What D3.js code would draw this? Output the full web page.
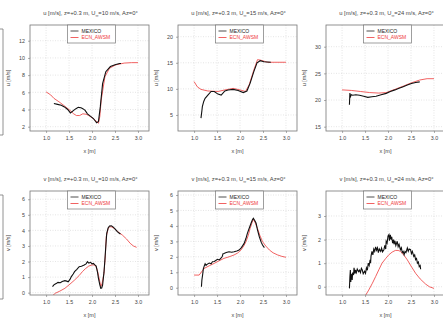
<!DOCTYPE html>
<html>
<head>
<meta charset="utf-8">
<script src="https://cdn.jsdelivr.net/npm/d3@7"></script>
<style>
  body { margin: 0; background: #fff; }
  svg { display: block; font-family: "Liberation Sans", Arial, sans-serif; }
</style>
</head>
<body>
<svg id="chart" width="443" height="320"></svg>
<script>
// ---- data ----
const xTicks = [1.0, 1.5, 2.0, 2.5, 3.0];
const speeds = [10, 15, 24];
const components = ["u", "v"];
const seriesNames = ["MEXICO", "ECN_AWSM"];

const u10Ticks = [2, 4, 6, 8, 10, 12];
const u15Ticks = [5, 10, 15, 20];
const u24Ticks = [15, 20, 25, 30];
const v10Ticks = [0, 1, 2, 3, 4, 5, 6];
const v15Ticks = [0, 1, 2, 3, 4, 5, 6];
const v24Ticks = [0, 1, 2, 3];

const u10Mexico = [[1.17,4.7],[1.25,4.6],[1.33,4.5],[1.4,4.3],[1.47,4.0],[1.53,3.6],[1.6,3.9],[1.65,4.1],[1.7,4.25],[1.76,4.2],[1.8,4.1],[1.85,3.9],[1.9,3.5],[1.97,3.2],[2.03,2.95],[2.1,2.45],[2.14,2.6],[2.18,4.3],[2.23,7.0],[2.3,8.4],[2.4,9.0],[2.5,9.2],[2.6,9.35],[2.63,9.35]];
const u10Awsm = [[1.0,6.05],[1.1,5.7],[1.17,5.3],[1.28,4.9],[1.38,4.5],[1.52,3.9],[1.6,3.5],[1.66,3.3],[1.73,3.3],[1.8,3.5],[1.87,3.45],[1.93,3.3],[2.0,3.05],[2.07,2.75],[2.14,2.4],[2.17,3.2],[2.2,5.1],[2.28,7.8],[2.38,8.8],[2.52,9.2],[2.7,9.4],[2.86,9.45],[3.0,9.45]];

const u15Mexico = [[1.15,4.4],[1.17,5.8],[1.18,6.6],[1.21,7.6],[1.24,8.2],[1.3,8.8],[1.37,9.5],[1.44,9.5],[1.52,9.0],[1.59,8.8],[1.67,9.6],[1.74,9.8],[1.85,9.9],[1.96,9.7],[2.07,9.3],[2.15,9.6],[2.22,11.1],[2.3,13.3],[2.37,15.0],[2.44,15.4],[2.52,15.2],[2.67,15.1]];
const u15Awsm = [[1.0,11.4],[1.07,10.4],[1.15,9.9],[1.3,9.6],[1.52,9.5],[1.67,9.8],[1.85,10.1],[2.0,9.8],[2.12,9.5],[2.2,10.8],[2.3,13.6],[2.38,15.6],[2.45,15.5],[2.6,15.1],[3.0,15.1]];

const u24Mexico = [[1.16,19.1],[1.17,21.3],[1.18,20.6],[1.2,21.0],[1.23,20.9],[1.3,21.0],[1.38,20.9],[1.47,20.7],[1.56,20.5],[1.65,20.6],[1.74,20.7],[1.85,21.0],[1.96,21.25],[2.05,21.6],[2.15,21.9],[2.24,22.2],[2.33,22.5],[2.42,22.8],[2.51,23.1],[2.6,23.3],[2.69,23.4]];
const u24Awsm = [[1.0,21.9],[1.2,21.8],[1.4,21.6],[1.6,21.4],[1.8,21.3],[1.96,21.4],[2.15,22.0],[2.33,22.6],[2.5,23.2],[2.69,23.75],[2.85,24.0],[3.0,24.0]];

const v10Mexico = [[1.14,0.39],[1.17,0.5],[1.2,0.56],[1.23,0.6],[1.26,0.66],[1.31,0.64],[1.35,0.72],[1.41,0.77],[1.45,0.74],[1.48,0.7],[1.52,0.85],[1.55,1.03],[1.59,1.2],[1.62,1.35],[1.67,1.5],[1.72,1.67],[1.77,1.7],[1.83,1.78],[1.87,1.85],[1.9,1.99],[1.93,1.9],[1.97,1.95],[2.0,1.85],[2.03,1.88],[2.06,1.78],[2.09,1.71],[2.12,1.3],[2.14,0.92],[2.17,0.5],[2.19,0.28],[2.21,0.3],[2.23,0.49],[2.26,1.3],[2.28,2.1],[2.3,3.0],[2.32,3.81],[2.35,4.15],[2.38,4.28],[2.42,4.3],[2.45,4.24],[2.5,4.1],[2.55,3.92],[2.6,3.8],[2.62,3.77]];
const v10Awsm = [[1.0,-0.5],[1.1,-0.3],[1.2,-0.04],[1.3,0.1],[1.41,0.28],[1.52,0.55],[1.62,0.81],[1.72,1.1],[1.79,1.35],[1.86,1.55],[1.93,1.71],[2.0,1.78],[2.07,1.78],[2.11,1.5],[2.14,1.13],[2.17,0.7],[2.19,0.39],[2.22,0.6],[2.26,1.24],[2.29,2.4],[2.31,3.6],[2.35,4.1],[2.38,4.24],[2.43,4.22],[2.48,4.13],[2.57,3.9],[2.66,3.7],[2.75,3.45],[2.83,3.17],[2.9,3.0],[2.97,2.91]];

const v15Mexico = [[1.16,0.06],[1.17,0.5],[1.19,0.93],[1.2,1.2],[1.22,1.4],[1.24,1.55],[1.26,1.45],[1.29,1.53],[1.33,1.6],[1.37,1.55],[1.4,1.68],[1.44,1.7],[1.48,1.78],[1.51,1.84],[1.55,1.8],[1.58,1.9],[1.61,2.0],[1.63,2.2],[1.65,2.22],[1.7,2.28],[1.76,2.33],[1.82,2.3],[1.87,2.33],[1.93,2.38],[1.98,2.44],[2.03,2.6],[2.09,2.87],[2.13,3.2],[2.16,3.52],[2.2,3.85],[2.24,4.17],[2.27,4.4],[2.29,4.49],[2.32,4.35],[2.35,4.17],[2.38,3.75],[2.42,3.3],[2.46,2.95],[2.49,2.76],[2.53,2.6]];
const v15Awsm = [[1.0,0.82],[1.11,0.82],[1.22,1.25],[1.33,1.42],[1.44,1.58],[1.55,1.75],[1.65,1.9],[1.76,2.0],[1.87,2.12],[1.95,2.25],[2.02,2.44],[2.08,2.7],[2.13,2.98],[2.18,3.4],[2.22,3.84],[2.26,4.2],[2.29,4.43],[2.33,4.2],[2.38,3.84],[2.43,3.4],[2.49,2.98],[2.56,2.7],[2.64,2.44],[2.72,2.26],[2.82,2.12],[2.91,2.03],[3.0,1.97]];

const v24Mexico = [[1.16,-0.07],[1.17,0.4],[1.18,0.71],[1.19,0.2],[1.2,0.55],[1.22,0.29],[1.23,0.6],[1.25,0.5],[1.26,0.8],[1.28,0.55],[1.29,0.71],[1.31,0.6],[1.33,0.75],[1.36,0.64],[1.38,0.7],[1.4,0.6],[1.42,0.78],[1.44,0.71],[1.46,0.55],[1.49,0.66],[1.51,0.57],[1.53,0.8],[1.55,0.7],[1.57,1.0],[1.59,0.9],[1.61,1.14],[1.62,1.0],[1.63,1.3],[1.65,1.5],[1.67,1.35],[1.69,1.6],[1.71,1.5],[1.73,1.69],[1.75,1.55],[1.77,1.65],[1.79,1.45],[1.81,1.6],[1.84,1.5],[1.86,1.64],[1.88,1.48],[1.91,1.57],[1.93,1.75],[1.95,1.6],[1.96,1.93],[1.98,1.85],[2.0,2.15],[2.02,2.21],[2.03,1.95],[2.05,2.2],[2.07,2.0],[2.08,2.12],[2.1,1.85],[2.12,2.0],[2.13,1.8],[2.15,1.95],[2.17,1.75],[2.2,1.93],[2.22,1.7],[2.24,1.8],[2.27,1.57],[2.29,1.65],[2.31,1.45],[2.33,1.5],[2.35,1.36],[2.37,1.5],[2.39,1.45],[2.42,1.64],[2.44,1.5],[2.46,1.6],[2.49,1.57],[2.51,1.4],[2.53,1.5],[2.56,1.29],[2.58,1.35],[2.6,1.15],[2.62,1.2],[2.64,1.0],[2.66,1.05],[2.68,0.85],[2.7,0.9],[2.71,0.74]];
const v24Awsm = [[1.0,-1.6],[1.2,-1.2],[1.35,-0.8],[1.47,-0.5],[1.58,-0.14],[1.66,0.15],[1.73,0.43],[1.8,0.72],[1.87,1.0],[1.95,1.2],[2.02,1.36],[2.09,1.47],[2.16,1.54],[2.22,1.54],[2.27,1.5],[2.35,1.33],[2.42,1.14],[2.5,0.88],[2.6,0.57],[2.7,0.33],[2.82,0.11],[2.9,0.0],[3.0,-0.07]];

// visible y range of each box (top row then bottom row)
const u10Domain = [1.5, 13.83];
const u15Domain = [1.93, 22.24];
const u24Domain = [14.19, 34.07];
const v10Domain = [-0.15, 6.53];
const v15Domain = [-0.47, 6.26];
const v24Domain = [-0.35, 4.06];
const xDomain = [0.65, 3.24];

const panels = [
  { comp: "u", speed: 10, ticks: u10Ticks, domain: u10Domain, mexico: u10Mexico, awsm: u10Awsm },
  { comp: "u", speed: 15, ticks: u15Ticks, domain: u15Domain, mexico: u15Mexico, awsm: u15Awsm },
  { comp: "u", speed: 24, ticks: u24Ticks, domain: u24Domain, mexico: u24Mexico, awsm: u24Awsm },
  { comp: "v", speed: 10, ticks: v10Ticks, domain: v10Domain, mexico: v10Mexico, awsm: v10Awsm },
  { comp: "v", speed: 15, ticks: v15Ticks, domain: v15Domain, mexico: v15Mexico, awsm: v15Awsm },
  { comp: "v", speed: 24, ticks: v24Ticks, domain: v24Domain, mexico: v24Mexico, awsm: v24Awsm }
];

// ---- layout ----
const svg = d3.select("#chart");
const boxW = 119;
const colLeft = [30, 178, 326];
const rowTop = [25, 191];
const rowBottom = [131, 295];
const textColor = "#444";
const frameColor = "#777";
const red = "#ee3a3a";

// edges of the panels cut off on the left
[0, 1].forEach(r => {
  svg.append("path")
    .attr("d", `M-5,${rowTop[r] + 4}H3V${rowBottom[r] + 4}H-5`)
    .attr("fill", "none").attr("stroke", frameColor).attr("stroke-width", 0.8);
});

panels.forEach((p, i) => {
  const col = i % 3, row = Math.floor(i / 3);
  const x0 = colLeft[col], x1 = x0 + boxW;
  const y0 = rowTop[row], y1 = rowBottom[row];

  const x = d3.scaleLinear().domain(xDomain).range([x0, x1]);
  const y = d3.scaleLinear().domain(p.domain).range([y1, y0]);

  const g = svg.append("g");

  // grid
  g.selectAll(".gx").data(xTicks).enter().append("line")
    .attr("x1", d => x(d)).attr("x2", d => x(d)).attr("y1", y0).attr("y2", y1)
    .attr("stroke", "#d4d4d4").attr("stroke-width", 0.6).attr("stroke-dasharray", "1,1.5");
  g.selectAll(".gy").data(p.ticks).enter().append("line")
    .attr("x1", x0).attr("x2", x1).attr("y1", d => y(d)).attr("y2", d => y(d))
    .attr("stroke", "#d4d4d4").attr("stroke-width", 0.6).attr("stroke-dasharray", "1,1.5");

  // curves, clipped to the box
  const clipId = "clip" + i;
  svg.append("clipPath").attr("id", clipId).append("rect")
    .attr("x", x0).attr("y", y0).attr("width", boxW).attr("height", y1 - y0);
  const line = d3.line().x(d => x(d[0])).y(d => y(d[1]));
  const curves = g.append("g").attr("clip-path", `url(#${clipId})`);
  curves.append("path").attr("d", line(p.awsm))
    .attr("fill", "none").attr("stroke", red).attr("stroke-width", 0.8);
  curves.append("path").attr("d", line(p.mexico))
    .attr("fill", "none").attr("stroke", "#111").attr("stroke-width", 1.1);

  // axes
  const xAxis = g.append("g").attr("transform", `translate(0,${y1})`)
    .call(d3.axisBottom(x).tickValues(xTicks).tickSize(2).tickPadding(3).tickFormat(d3.format(".1f")));
  const yAxis = g.append("g").attr("transform", `translate(${x0},0)`)
    .call(d3.axisLeft(y).tickValues(p.ticks).tickSize(2).tickPadding(3).tickFormat(d3.format("d")));
  [xAxis, yAxis].forEach(a => {
    a.select(".domain").remove();
    a.selectAll("line").attr("stroke", frameColor).attr("stroke-width", 0.6);
    a.selectAll("text").attr("fill", textColor).style("font-size", "5.3px");
  });

  // frame
  g.append("rect").attr("x", x0).attr("y", y0).attr("width", boxW).attr("height", y1 - y0)
    .attr("fill", "none").attr("stroke", frameColor).attr("stroke-width", 0.8);

  // legend
  const lw = 48, lh = 18;
  const lx = (x0 + x1) / 2 - lw / 2 + 2;
  const leg = g.append("g").attr("transform", `translate(${lx},${y0})`);
  leg.append("rect").attr("width", lw).attr("height", lh)
    .attr("fill", "#fff").attr("stroke", frameColor).attr("stroke-width", 0.7);
  seriesNames.forEach((name, k) => {
    const ly = 6 + k * 6.5;
    const c = k === 0 ? "#222" : red;
    leg.append("line").attr("x1", 3).attr("x2", 11).attr("y1", ly).attr("y2", ly)
      .attr("stroke", c).attr("stroke-width", 0.8);
    leg.append("text").attr("x", 14).attr("y", ly + 1.8).text(name)
      .attr("fill", c).style("font-size", "5px");
  });

  // title
  const title = g.append("text").attr("x", (x0 + x1) / 2 + 1).attr("y", y0 - 10)
    .attr("text-anchor", "middle").attr("fill", textColor).style("font-size", "5.8px");
  title.append("tspan").text(`${p.comp} [m/s], z=+0.3 m, U`);
  title.append("tspan").text("\u221e").attr("dy", 1.5).style("font-size", "4px");
  title.append("tspan").text(`=${p.speed} m/s, Az=0\u00b0`).attr("dy", -1.5);

  // axis labels
  g.append("text").attr("x", (x0 + x1) / 2).attr("y", y1 + 22)
    .attr("text-anchor", "middle").attr("fill", textColor).style("font-size", "5.5px")
    .text("x [m]");
  g.append("text")
    .attr("transform", `translate(${x0 - 20},${(y0 + y1) / 2}) rotate(-90)`)
    .attr("text-anchor", "middle").attr("fill", textColor).style("font-size", "5.5px")
    .text(`${p.comp} [m/s]`);
});
</script>
</body>
</html>
